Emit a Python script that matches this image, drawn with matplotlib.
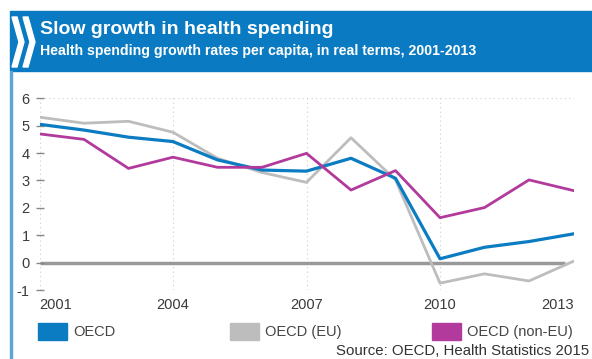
import matplotlib
matplotlib.use('Agg')
import matplotlib.pyplot as plt
from matplotlib.patches import Rectangle, Polygon

plt.rcParams['font.family'] = ['Liberation Sans', 'DejaVu Sans']
plt.rcParams['axes.unicode_minus'] = False

years = list(range(2001, 2014))
oecd = [5.05, 4.84, 4.58, 4.42, 3.75, 3.38, 3.34, 3.81, 3.08, 0.14, 0.56, 0.77, 1.05]
oecd_eu = [5.31, 5.09, 5.16, 4.76, 3.81, 3.29, 2.93, 4.56, 3.02, -0.75, -0.41, -0.67, 0.05]
oecd_noneu = [4.70, 4.50, 3.44, 3.85, 3.48, 3.48, 3.99, 2.65, 3.36, 1.64, 2.01, 3.02, 2.63]
xticks = [2001, 2004, 2007, 2010, 2013]
yticks = [-1, 0, 1, 2, 3, 4, 5, 6]
names = ['OECD', 'OECD (EU)', 'OECD (non-EU)']

W, H = 592, 359
c_blue = '#0b7cc2'
c_grey = '#bdbdbd'
c_purple = '#b23a9c'
c_head = '#0a7bc2'

def fx(x):
    return x / W

def fy(y):
    return 1 - y / H

fig = plt.figure(figsize=(W / 100, H / 100), dpi=100)

# header band + left rule
fig.patches.append(Rectangle((fx(10), fy(71)), fx(592) - fx(10), fy(11) - fy(71),
                             transform=fig.transFigure, color=c_head, zorder=0))
fig.patches.append(Rectangle((fx(10), fy(359)), fx(2), fy(71) - fy(359),
                             transform=fig.transFigure, color='#5aa6d8', zorder=0))
for x0 in (12, 23):
    pts = [(x0, 17), (x0 + 5, 17), (x0 + 12, 42), (x0 + 5, 67), (x0, 67), (x0 + 7, 42)]
    fig.patches.append(Polygon([(fx(a), fy(b)) for a, b in pts], closed=True,
                               transform=fig.transFigure, color='white', zorder=1))
fig.text(fx(40), fy(30), 'Slow growth in health spending', color='white',
         fontsize=14, fontweight='bold', va='center', ha='left')
fig.text(fx(40), fy(51), 'Health spending growth rates per capita, in real terms, 2001-2013',
         color='white', fontsize=10.2, fontweight='bold', va='center', ha='left')

ax = fig.add_axes([fx(39.5), fy(290), fx(573.5) - fx(39.5), fy(98.3) - fy(290)])
ax.set_xlim(2001, 2013)
ax.set_ylim(-1, 6)
for s in ax.spines.values():
    s.set_visible(False)

for x in xticks:
    ax.axvline(x, color='#cccccc', lw=0.8, ls=(0, (1, 3)), zorder=0)
ax.axhline(6, color='#cccccc', lw=0.8, ls=(0, (1, 3)), zorder=0)
ax.plot([2001, 2012.8], [0, 0], color='#999999', lw=2.5, zorder=1, solid_capstyle='butt')

l2, = ax.plot(years, oecd_eu, color=c_grey, lw=2.0, label=names[1], zorder=2)
l1, = ax.plot(years, oecd, color=c_blue, lw=2.3, label=names[0], zorder=3)
l3, = ax.plot(years, oecd_noneu, color=c_purple, lw=2.0, label=names[2], zorder=4)

ax.set_xticks(xticks)
ax.set_yticks(yticks)
ax.tick_params(axis='x', length=0, pad=6, labelsize=10.5, labelcolor='#3a3a3a')
ax.tick_params(axis='y', length=6, direction='inout', color='#888888', width=1,
               pad=4, labelsize=10.5, labelcolor='#3a3a3a')
labs = ax.get_xticklabels()
labs[0].set_ha('left')
labs[-1].set_ha('right')

# legend
leg = [(38, c_blue, names[0]), (230, c_grey, names[1]), (432, c_purple, names[2])]
for x0, c, n in leg:
    fig.patches.append(Rectangle((fx(x0), fy(340)), fx(29), fy(323) - fy(340),
                                 transform=fig.transFigure, color=c))
    fig.text(fx(x0 + 35), fy(332), n, fontsize=10.5, color='#444444', va='center', ha='left')

fig.text(fx(589), fy(351), 'Source: OECD, Health Statistics 2015', fontsize=10.8,
         color='#333333', va='center', ha='right')

fig.savefig('out.png', dpi=100)
